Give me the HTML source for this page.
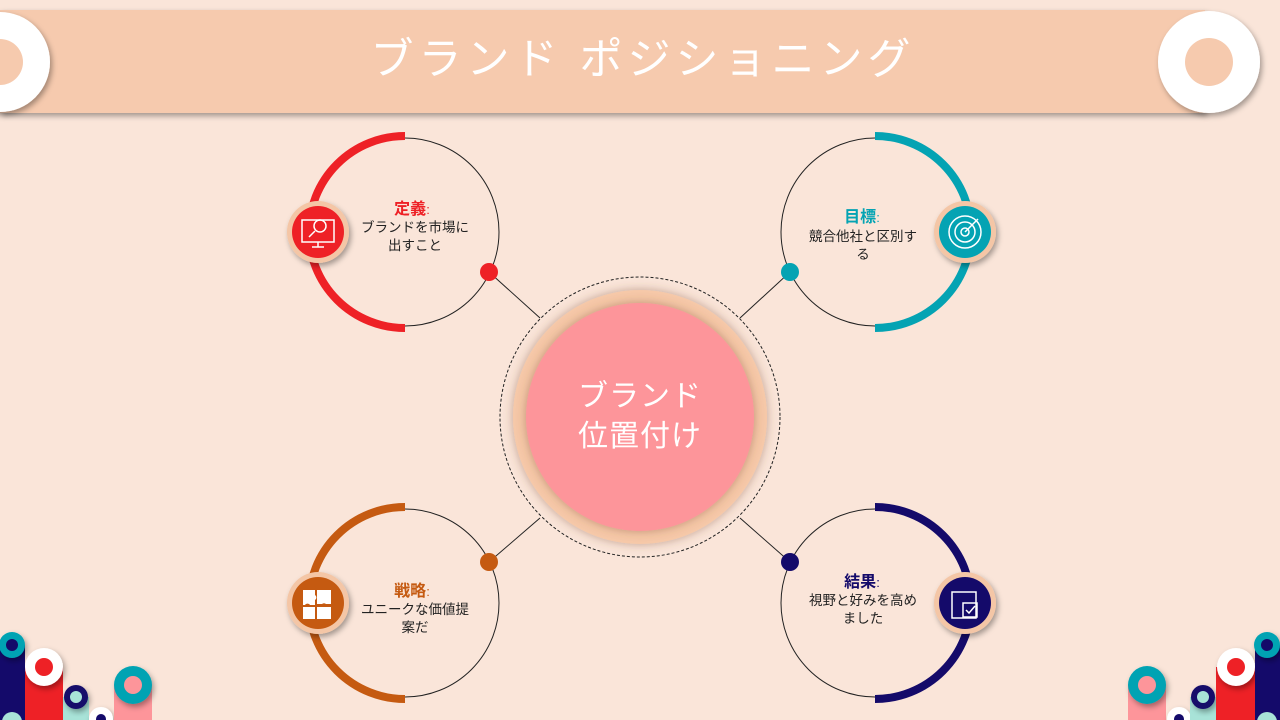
<!DOCTYPE html>
<html><head><meta charset="utf-8"><style>
body{margin:0;background:#fae5d9;}
svg{display:block}
text{font-family:"Liberation Sans","Noto Sans CJK JP",sans-serif;}
</style></head><body>
<svg width="1280" height="720" viewBox="0 0 1280 720" xmlns="http://www.w3.org/2000/svg">
<defs>
<filter id="sh" x="-30%" y="-30%" width="160%" height="160%"><feDropShadow dx="2" dy="3" stdDeviation="3" flood-color="#000" flood-opacity="0.35"/></filter>
<filter id="sh2" x="-30%" y="-30%" width="160%" height="160%"><feDropShadow dx="0" dy="0" stdDeviation="5" flood-color="#7a4a30" flood-opacity="0.45"/></filter>
</defs>
<rect width="1280" height="720" fill="#fae5d9"/>
<rect x="0" y="10" width="1205" height="103" fill="#f6caae" filter="url(#sh)"/>
<circle cx="0" cy="62" r="50" fill="#fff" filter="url(#sh)"/><circle cx="0" cy="62" r="23" fill="#f6caae"/>
<circle cx="1209" cy="62" r="51" fill="#fff" filter="url(#sh)"/><circle cx="1209" cy="62" r="24" fill="#f6caae"/>
<text x="643" y="74" text-anchor="middle" font-size="43" fill="#fff" letter-spacing="5">ブランド ポジショニング</text>

<g stroke="#222" stroke-width="1">
<line x1="489" y1="272" x2="540" y2="318"/><line x1="790" y1="272" x2="740" y2="318"/>
<line x1="489" y1="562" x2="540" y2="518"/><line x1="790" y1="562" x2="740" y2="518"/>
</g>
<circle cx="640" cy="417" r="140" fill="none" stroke="#222" stroke-width="1" stroke-dasharray="3,2"/>
<circle cx="640" cy="417" r="127" fill="#f6c8a8" filter="url(#sh2)"/>
<circle cx="640" cy="417" r="114" fill="#fd959a" filter="url(#sh2)"/>
<text x="640" y="406" text-anchor="middle" font-size="30" fill="#fff" letter-spacing="1">ブランド</text>
<text x="640" y="446" text-anchor="middle" font-size="30" fill="#fff" letter-spacing="1">位置付け</text>

<g fill="none" stroke="#222" stroke-width="1">
<circle cx="405" cy="232" r="94"/><circle cx="875" cy="232" r="94"/>
<circle cx="405" cy="603" r="94"/><circle cx="875" cy="603" r="94"/>
</g>
<g fill="none" stroke-width="8">
<path d="M405 136 A96 96 0 0 0 405 328" stroke="#ee2126"/>
<path d="M875 136 A96 96 0 0 1 875 328" stroke="#04a3b3"/>
<path d="M405 507 A96 96 0 0 0 405 699" stroke="#c55a11"/>
<path d="M875 507 A96 96 0 0 1 875 699" stroke="#140a6a"/>
</g>
<circle cx="489" cy="272" r="9" fill="#ee2126"/>
<circle cx="790" cy="272" r="9" fill="#04a3b3"/>
<circle cx="489" cy="562" r="9" fill="#c55a11"/>
<circle cx="790" cy="562" r="9" fill="#140a6a"/>

<g filter="url(#sh)">
<circle cx="318" cy="232" r="31" fill="#f4c6a6"/><circle cx="965" cy="232" r="31" fill="#f4c6a6"/>
<circle cx="318" cy="603" r="31" fill="#f4c6a6"/><circle cx="965" cy="603" r="31" fill="#f4c6a6"/>
</g>
<circle cx="318" cy="232" r="26" fill="#ee2126"/><circle cx="965" cy="232" r="26" fill="#04a3b3"/>
<circle cx="318" cy="603" r="26" fill="#c55a11"/><circle cx="965" cy="603" r="26" fill="#140a6a"/>
<g stroke="#fff" fill="none" stroke-width="1.5">
<rect x="302" y="220" width="32" height="22"/><line x1="312" y1="247" x2="324" y2="247"/><line x1="318" y1="242" x2="318" y2="247"/>
<circle cx="320" cy="226" r="6"/><line x1="315" y1="231" x2="309" y2="237"/>
<circle cx="965" cy="232" r="16"/><circle cx="965" cy="232" r="10"/><circle cx="965" cy="232" r="4"/><line x1="965" y1="232" x2="978" y2="219"/>
<rect x="952" y="592" width="24" height="26"/><rect x="963" y="603" width="14" height="14"/><path d="M966 610 l3 3 l6 -7"/>
</g>
<path d="M303 590 h12 v5 a3 3 0 0 1 0 5 v5 h-5 a3 3 0 0 0 -5 0 h-2z M317 590 h14 v14 h-5 a3 3 0 0 0 -4 0 h-5z M303 607 h12 v12 h-12z M317 607 h14 v12 h-14z" fill="#fff"/>

<text x="412" y="214" text-anchor="middle" font-size="16" font-weight="bold" fill="#ee2126">定義<tspan font-weight="normal" font-size="13">:</tspan></text>
<text x="415" y="232" text-anchor="middle" font-size="13.5" fill="#222">ブランドを市場に</text>
<text x="415" y="250" text-anchor="middle" font-size="13.5" fill="#222">出すこと</text>
<text x="862" y="222" text-anchor="middle" font-size="16" font-weight="bold" fill="#04a3b3">目標<tspan font-weight="normal" font-size="13">:</tspan></text>
<text x="863" y="241" text-anchor="middle" font-size="13.5" fill="#222">競合他社と区別す</text>
<text x="863" y="259" text-anchor="middle" font-size="13.5" fill="#222">る</text>
<text x="412" y="596" text-anchor="middle" font-size="16" font-weight="bold" fill="#c55a11">戦略<tspan font-weight="normal" font-size="13">:</tspan></text>
<text x="415" y="614" text-anchor="middle" font-size="13.5" fill="#222">ユニークな価値提</text>
<text x="415" y="632" text-anchor="middle" font-size="13.5" fill="#222">案だ</text>
<text x="862" y="587" text-anchor="middle" font-size="16" font-weight="bold" fill="#140a6a">結果<tspan font-weight="normal" font-size="13">:</tspan></text>
<text x="863" y="605" text-anchor="middle" font-size="13.5" fill="#222">視野と好みを高め</text>
<text x="863" y="623" text-anchor="middle" font-size="13.5" fill="#222">ました</text>

<rect x="0" y="645" width="25" height="75" fill="#140a6a"/>
<circle cx="12" cy="645" r="13" fill="#04a3b3" filter="url(#sh)"/><circle cx="12" cy="645" r="6" fill="#140a6a"/>
<rect x="25" y="667" width="38" height="53" fill="#ee2126"/>
<circle cx="44" cy="667" r="19" fill="#fff" filter="url(#sh)"/><circle cx="44" cy="667" r="9" fill="#ee2126"/>
<rect x="63" y="697" width="26" height="23" fill="#a8e3d8"/>
<circle cx="76" cy="697" r="12" fill="#140a6a" filter="url(#sh)"/><circle cx="76" cy="697" r="6" fill="#a8e3d8"/>
<circle cx="101" cy="719" r="12" fill="#fff" filter="url(#sh)"/><circle cx="101" cy="719" r="5" fill="#140a6a"/>
<circle cx="12" cy="722" r="10" fill="#a8e3d8"/>
<rect x="114" y="685" width="38" height="35" fill="#fd959a"/>
<circle cx="133" cy="685" r="19" fill="#04a3b3" filter="url(#sh)"/><circle cx="133" cy="685" r="9" fill="#fd959a"/>
<rect x="1128" y="685" width="38" height="35" fill="#fd959a"/>
<circle cx="1147" cy="685" r="19" fill="#04a3b3" filter="url(#sh)"/><circle cx="1147" cy="685" r="9" fill="#fd959a"/>
<circle cx="1179" cy="719" r="12" fill="#fff" filter="url(#sh)"/><circle cx="1179" cy="719" r="5" fill="#140a6a"/>
<rect x="1190" y="697" width="26" height="23" fill="#a8e3d8"/>
<circle cx="1203" cy="697" r="12" fill="#140a6a" filter="url(#sh)"/><circle cx="1203" cy="697" r="6" fill="#a8e3d8"/>
<rect x="1216" y="667" width="39" height="53" fill="#ee2126"/>
<circle cx="1236" cy="667" r="19" fill="#fff" filter="url(#sh)"/><circle cx="1236" cy="667" r="9" fill="#ee2126"/>
<rect x="1255" y="645" width="25" height="75" fill="#140a6a"/>
<circle cx="1267" cy="645" r="13" fill="#04a3b3" filter="url(#sh)"/><circle cx="1267" cy="645" r="6" fill="#140a6a"/>
<circle cx="1267" cy="722" r="10" fill="#a8e3d8"/>
</svg>
</body></html>
